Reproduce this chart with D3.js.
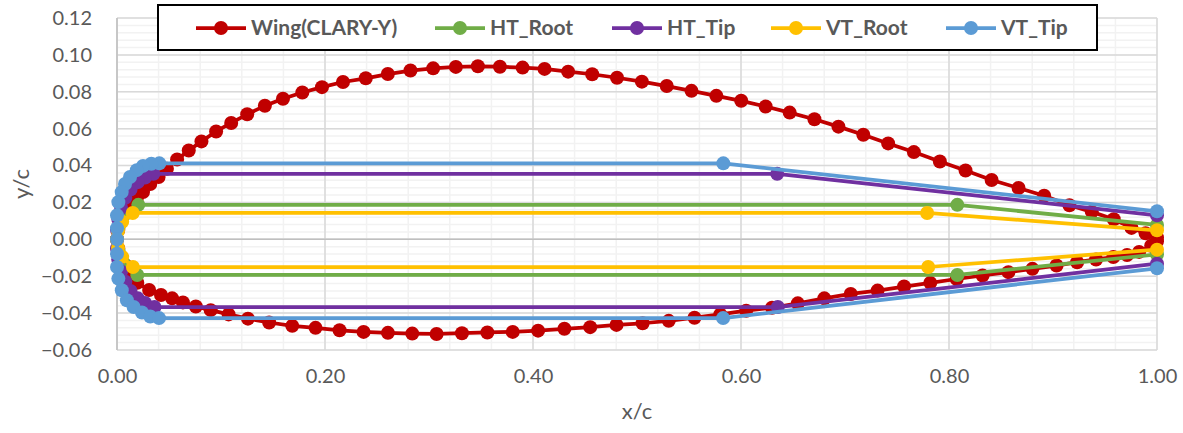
<!DOCTYPE html>
<html>
<head>
<meta charset="utf-8">
<script src="https://cdn.jsdelivr.net/npm/d3@7"></script>
<style>
html,body{margin:0;padding:0;background:#fff;}
svg{display:block;font-family:Lato,"Open Sans",sans-serif;}
</style>
</head>
<body>
<svg id="chart" width="1183" height="433"></svg>
<script>
// ---------- data ----------
const seriesNames = ["Wing(CLARY-Y)", "HT_Root", "HT_Tip", "VT_Root", "VT_Tip"];
const seriesColors = ["#C00000", "#70AD47", "#7030A0", "#FFC000", "#5B9BD5"];

const wing = [
 [1.0,0.001],[0.989,0.0033],[0.9755,0.0062],[0.9584,0.0109],[0.9373,0.0149],[0.9158,0.0185],[0.8915,0.0236],
 [0.8669,0.0278],[0.841,0.0322],[0.8159,0.0373],[0.7912,0.0422],[0.7662,0.0473],[0.7415,0.052],[0.7176,0.0567],
 [0.6937,0.0611],[0.6706,0.0651],[0.6468,0.0687],[0.6237,0.072],[0.6002,0.0751],[0.5763,0.0778],[0.5524,0.0805],
 [0.5286,0.0831],[0.5047,0.0855],[0.4808,0.0876],[0.4569,0.0895],[0.4338,0.0909],[0.4111,0.0924],[0.39,0.0931],
 [0.3682,0.0936],[0.347,0.0938],[0.3258,0.0935],[0.304,0.0927],[0.2822,0.0915],[0.2604,0.0896],[0.2392,0.0873],
 [0.2173,0.0853],[0.1971,0.0825],[0.1782,0.0796],[0.1596,0.0762],[0.1422,0.0724],[0.1252,0.0678],[0.1098,0.0631],
 [0.0953,0.0585],[0.0812,0.0531],[0.069,0.0482],[0.0578,0.0433],[0.048,0.0383],[0.040,0.0338],[0.032,0.030],
 [0.025,0.0256],[0.019,0.022],[0.013,0.018],[0.008,0.014],[0.004,0.0095],[0.0012,0.005],[0.0,0.0],
 [0.0012,-0.005],[0.004,-0.0095],[0.008,-0.014],[0.013,-0.019],[0.0195,-0.0235],[0.0309,-0.0275],[0.0423,-0.0302],
 [0.053,-0.032],[0.0634,-0.0342],[0.0758,-0.0364],[0.0901,-0.0384],[0.1073,-0.0407],[0.1259,-0.043],[0.1463,-0.0451],
 [0.1685,-0.0469],[0.1909,-0.048],[0.214,-0.0493],[0.2371,-0.0502],[0.2605,-0.0507],[0.2839,-0.0511],[0.3073,-0.0513],
 [0.3317,-0.0509],[0.3561,-0.0505],[0.3805,-0.0502],[0.4049,-0.0495],[0.4302,-0.0485],[0.455,-0.0476],[0.4803,-0.0464],
 [0.5054,-0.0455],[0.5305,-0.0442],[0.5553,-0.0425],[0.5801,-0.0407],[0.605,-0.0387],[0.6298,-0.0371],[0.6546,-0.0347],
 [0.6801,-0.032],[0.7055,-0.0296],[0.7313,-0.0278],[0.7568,-0.0256],[0.782,-0.0236],[0.8074,-0.0215],[0.8323,-0.0196],
 [0.8571,-0.0178],[0.8802,-0.016],[0.9034,-0.0142],[0.9232,-0.0124],[0.9414,-0.0109],[0.958,-0.0096],[0.9712,-0.0085],
 [0.9828,-0.0068],[0.9944,-0.0035],[1.0,-0.001]
];
const htRoot = [
 [1.0,0.0078],[0.808,0.0187],[0.0205,0.0187],[0.006,0.0125],[0.0015,0.0065],[0.0,0.0],
 [0.0015,-0.0065],[0.006,-0.0125],[0.0195,-0.0193],[0.808,-0.0193],[1.0,-0.0082]
];
const htTip = [
 [1.0,0.013],[0.6348,0.0355],[0.035,0.0355],[0.027,0.0335],[0.02,0.031],[0.013,0.027],[0.008,0.0225],
 [0.004,0.017],[0.0012,0.011],[0.0,0.005],[0.0,0.0],[0.0,-0.005],[0.0012,-0.011],[0.004,-0.0175],
 [0.008,-0.023],[0.013,-0.028],[0.02,-0.032],[0.027,-0.0345],[0.036,-0.0367],[0.6354,-0.0367],[1.0,-0.0132]
];
const vtRoot = [
 [1.0,0.0049],[0.779,0.0143],[0.0151,0.0143],[0.005,0.0095],[0.001,0.0045],[0.0,0.0],
 [0.001,-0.0045],[0.005,-0.0095],[0.0153,-0.015],[0.78,-0.015],[1.0,-0.0056]
];
const vtTip = [
 [1.0,0.0152],[0.583,0.0412],[0.0407,0.0412],[0.033,0.041],[0.025,0.0398],[0.019,0.0375],[0.0125,0.0338],
 [0.0077,0.030],[0.0045,0.0256],[0.0013,0.0202],[0.0,0.013],[0.0,0.006],[0.0,0.0],[0.0,-0.0078],[0.0,-0.015],
 [0.0013,-0.0213],[0.0046,-0.0276],[0.0095,-0.033],[0.016,-0.0367],[0.024,-0.0397],[0.032,-0.0418],[0.0404,-0.0427],
 [0.5828,-0.0427],[1.0,-0.0157]
];
const xTickValues = [0, 0.2, 0.4, 0.6, 0.8, 1.0];
const yTickValues = [-0.06, -0.04, -0.02, 0, 0.02, 0.04, 0.06, 0.08, 0.10, 0.12];
const xTitle = "x/c";
const yTitle = "y/c";

// ---------- layout ----------
const svg = d3.select("#chart");
const x = d3.scaleLinear().domain([0, 1]).range([117, 1157]);
const y = d3.scaleLinear().domain([-0.06, 0.12]).range([350, 18]);
const textColor = "#595959";

// minor gridlines
const xMinor = d3.range(0, 1.0001, 0.04);
const yMinor = d3.range(-0.06, 0.12001, 0.004);
const grid = svg.append("g");
grid.selectAll("line.ym").data(yMinor).join("line")
  .attr("x1", x(0)).attr("x2", x(1)).attr("y1", d => y(d)).attr("y2", d => y(d))
  .attr("stroke", "#F2F2F2").attr("stroke-width", 1.5);
grid.selectAll("line.xm").data(xMinor).join("line")
  .attr("y1", y(-0.06)).attr("y2", y(0.12)).attr("x1", d => x(d)).attr("x2", d => x(d))
  .attr("stroke", "#F2F2F2").attr("stroke-width", 1.5);
// major gridlines
grid.selectAll("line.yM").data(yTickValues).join("line")
  .attr("x1", x(0)).attr("x2", x(1)).attr("y1", d => y(d)).attr("y2", d => y(d))
  .attr("stroke", "#D9D9D9").attr("stroke-width", 1.5);
grid.selectAll("line.xM").data(xTickValues).join("line")
  .attr("y1", y(-0.06)).attr("y2", y(0.12)).attr("x1", d => x(d)).attr("x2", d => x(d))
  .attr("stroke", "#D9D9D9").attr("stroke-width", 1.5);
// axis lines (crossing at 0)
grid.append("line").attr("x1", x(0)).attr("x2", x(1)).attr("y1", y(0)).attr("y2", y(0))
  .attr("stroke", "#BFBFBF").attr("stroke-width", 1.5);
grid.append("line").attr("x1", x(0)).attr("x2", x(0)).attr("y1", y(-0.06)).attr("y2", y(0.12))
  .attr("stroke", "#BFBFBF").attr("stroke-width", 1.5);

// axes labels
const fmt = d3.format(".2f");
const yAxis = svg.append("g").attr("transform", `translate(${x(0)},0)`)
  .call(d3.axisLeft(y).tickValues(yTickValues).tickFormat(fmt).tickSize(0).tickPadding(25));
const xAxis = svg.append("g").attr("transform", `translate(0,${y(-0.06)})`)
  .call(d3.axisBottom(x).tickValues(xTickValues).tickFormat(fmt).tickSize(0).tickPadding(19));
[xAxis, yAxis].forEach(a => {
  a.select(".domain").remove();
  a.selectAll("text").attr("fill", textColor).style("font-size", "20px").style("font-family", "Lato");
});

svg.append("text").attr("x", (x(0) + x(1)) / 2).attr("y", 419).attr("text-anchor", "middle")
  .attr("fill", textColor).style("font-size", "22px").text(xTitle);
svg.append("text").attr("transform", `translate(29,${(y(-0.06) + y(0.12)) / 2}) rotate(-90)`)
  .attr("text-anchor", "middle").attr("fill", textColor).style("font-size", "22px").text(yTitle);

// series
const allSeries = [wing, htRoot, htTip, vtRoot, vtTip];
const line = d3.line().x(d => x(d[0])).y(d => y(d[1]));
const plot = svg.append("g");
allSeries.forEach((data, i) => {
  const g = plot.append("g");
  g.append("path").datum(data).attr("d", line).attr("fill", "none")
    .attr("stroke", seriesColors[i]).attr("stroke-width", 3.75).attr("stroke-linejoin", "round");
  g.selectAll("circle").data(data).join("circle")
    .attr("cx", d => x(d[0])).attr("cy", d => y(d[1])).attr("r", 7)
    .attr("fill", seriesColors[i]);
});

// legend
const legend = svg.append("g");
legend.append("rect").attr("x", 158).attr("y", 5).attr("width", 939).attr("height", 45)
  .attr("fill", "#fff").attr("stroke", "#000").attr("stroke-width", 2);
const legendMarkX = [221, 460, 637, 796, 971];
seriesNames.forEach((name, i) => {
  const cx = legendMarkX[i], cy = 28;
  legend.append("line").attr("x1", cx - 25).attr("x2", cx + 25).attr("y1", cy).attr("y2", cy)
    .attr("stroke", seriesColors[i]).attr("stroke-width", 3.75);
  legend.append("circle").attr("cx", cx).attr("cy", cy).attr("r", 7).attr("fill", seriesColors[i]);
  legend.append("text").attr("x", cx + 30).attr("y", cy).attr("dy", "0.35em")
    .attr("fill", textColor).style("font-size", "21px").style("font-weight", "bold").text(name);
});
</script>
</body>
</html>
